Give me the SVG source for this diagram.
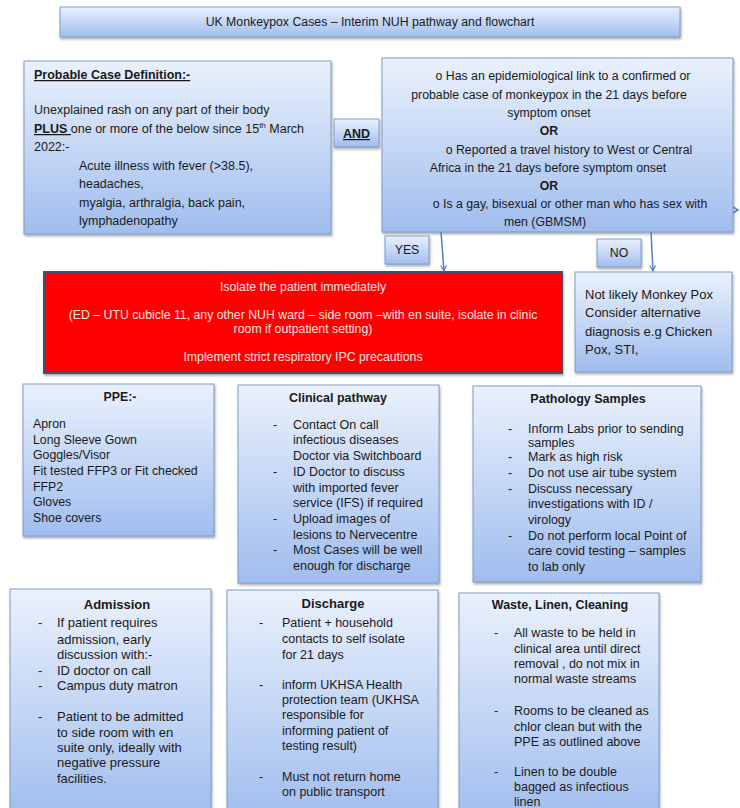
<svg xmlns="http://www.w3.org/2000/svg" width="740" height="808" viewBox="0 0 740 808">
<defs>
<linearGradient id="blueGrad" x1="0" y1="0" x2="0" y2="1">
<stop offset="0" stop-color="#eaf1fc"/>
<stop offset="1" stop-color="#a0bdee"/>
</linearGradient>
<filter id="shadow" x="-5%" y="-5%" width="115%" height="120%">
<feDropShadow dx="1" dy="2" stdDeviation="1.2" flood-color="#555" flood-opacity="0.45"/>
</filter>
<marker id="arrow" viewBox="0 0 10 10" refX="9" refY="5" markerWidth="7" markerHeight="7" orient="auto" markerUnits="userSpaceOnUse">
<path d="M1,1 L9,5 L1,9" fill="none" stroke="#4f81bd" stroke-width="1.6"/>
</marker>
</defs>
<style>
.box{fill:url(#blueGrad);stroke:#7f9cc9;stroke-width:1;filter:url(#shadow)}
.red{fill:#ff0000;stroke:#44506e;stroke-width:2;filter:url(#shadow)}
text{font-family:"Liberation Sans",Arial,sans-serif;fill:#1a1a1a}
.t12{font-size:12.3px}
.t125{font-size:12.5px}
.t13{font-size:13px}
.b{font-weight:bold}
.u{text-decoration:underline}
.m{text-anchor:middle}
.w{fill:#fde3e3}
.conn{stroke:#4f81bd;stroke-width:1.5;fill:none}
</style>

<g id="title">
<rect class="box" x="60" y="7" width="620" height="30"/>
<text class="m" x="370" y="26" font-size="12.3">UK Monkeypox Cases – Interim NUH  pathway and flowchart</text>
</g>

<g id="case-definition">
<rect class="box" x="24" y="61" width="307" height="173"/>
<text class="t125 b u" x="34" y="79">Probable Case Definition:-</text>
<text class="t125" x="34" y="114">Unexplained rash on any part of their body</text>
<text class="t125" x="34" y="133"><tspan class="b u">PLUS </tspan>one or more of the below since 15<tspan font-size="8" dy="-5">th</tspan><tspan dy="5"> March</tspan></text>
<text class="t125" x="34" y="151">2022:-</text>
<text class="t125" x="79" y="170">Acute illness with fever (&gt;38.5),</text>
<text class="t125" x="79" y="188">headaches,</text>
<text class="t125" x="79" y="207">myalgia, arthralgia, back pain,</text>
<text class="t125" x="79" y="225">lymphadenopathy</text>
</g>

<g id="and">
<rect class="box" x="334" y="119" width="45" height="28"/>
<text class="t125 b u m" x="356.5" y="138">AND</text>
</g>

<g id="criteria">
<rect class="box" x="382" y="58" width="351" height="174"/>
<text class="t12 m" x="563" y="80">o Has an epidemiological link to a confirmed or</text>
<text class="t12 m" x="549" y="99">probable case of monkeypox in the 21 days before</text>
<text class="t12 m" x="549" y="117">symptom onset</text>
<text class="t12 m b" x="549" y="135">OR</text>
<text class="t12 m" x="569" y="154">o Reported a travel history to West or Central</text>
<text class="t12 m" x="548" y="172">Africa in the 21 days before symptom onset</text>
<text class="t12 m b" x="549" y="190">OR</text>
<text class="t12 m" x="570" y="208">o Is a gay, bisexual or other man who has sex with</text>
<text class="t12 m" x="545" y="226">men (GBMSM)</text>
</g>

<g id="yes">
<rect class="box" x="385" y="236" width="44" height="28"/>
<text class="t12 m" x="407" y="254">YES</text>
</g>

<g id="no">
<rect class="box" x="597" y="239" width="44" height="28"/>
<text class="t12 m" x="619" y="257">NO</text>
</g>

<g id="isolate">
<rect class="red" x="44" y="272" width="518" height="101"/>
<text class="t12 m w" x="303" y="291">Isolate the patient immediately</text>
<text class="t12 m w" x="303" y="319">(ED – UTU cubicle 11, any other NUH ward – side room –with en suite, isolate in clinic</text>
<text class="t12 m w" x="303" y="333">room if outpatient setting)</text>
<text class="t12 m w" x="303" y="361">Implement strict respiratory IPC precautions</text>
</g>

<g id="not-likely">
<rect class="box" x="575" y="272" width="157" height="100"/>
<text class="t13" x="585" y="299">Not likely Monkey Pox</text>
<text class="t13" x="585" y="317">Consider alternative</text>
<text class="t13" x="585" y="336">diagnosis e.g Chicken</text>
<text class="t13" x="585" y="354">Pox, STI,</text>
</g>

<g id="ppe">
<rect class="box" x="23" y="384" width="191" height="152"/>
<text class="t12 b m" x="120" y="401">PPE:-</text>
<text class="t12" x="33" y="428">Apron</text>
<text class="t12" x="33" y="444">Long Sleeve Gown</text>
<text class="t12" x="33" y="459">Goggles/Visor</text>
<text class="t12" x="33" y="475">Fit tested FFP3 or Fit checked</text>
<text class="t12" x="33" y="491">FFP2</text>
<text class="t12" x="33" y="506">Gloves</text>
<text class="t12" x="33" y="522">Shoe covers</text>
</g>

<g id="clinical-pathway">
<rect class="box" x="238" y="385" width="201" height="198"/>
<text class="t125 b m" x="338" y="402">Clinical pathway</text>
<text class="t125" x="273" y="429">-</text>
<text class="t125" x="293" y="429">Contact On call</text>
<text class="t125" x="293" y="444">infectious diseases</text>
<text class="t125" x="293" y="460">Doctor via Switchboard</text>
<text class="t125" x="273" y="476">-</text>
<text class="t125" x="293" y="476">ID Doctor to discuss</text>
<text class="t125" x="293" y="492">with imported fever</text>
<text class="t125" x="293" y="507">service (IFS) if required</text>
<text class="t125" x="273" y="523">-</text>
<text class="t125" x="293" y="523">Upload images of</text>
<text class="t125" x="293" y="539">lesions to Nervecentre</text>
<text class="t125" x="273" y="554">-</text>
<text class="t125" x="293" y="554">Most Cases will be well</text>
<text class="t125" x="293" y="570">enough for discharge</text>
</g>

<g id="pathology-samples">
<rect class="box" x="473" y="386" width="228" height="196"/>
<text class="t125 b m" x="588" y="403">Pathology Samples</text>
<text class="t125" x="508" y="433">-</text>
<text class="t125" x="528" y="433">Inform Labs prior to sending</text>
<text class="t125" x="528" y="447">samples</text>
<text class="t125" x="508" y="461">-</text>
<text class="t125" x="528" y="461">Mark as high risk</text>
<text class="t125" x="508" y="477">-</text>
<text class="t125" x="528" y="477">Do not use air tube system</text>
<text class="t125" x="508" y="493">-</text>
<text class="t125" x="528" y="493">Discuss necessary</text>
<text class="t125" x="528" y="508">investigations with ID /</text>
<text class="t125" x="528" y="524">virology</text>
<text class="t125" x="508" y="540">-</text>
<text class="t125" x="528" y="540">Do not perform local Point of</text>
<text class="t125" x="528" y="555">care covid testing – samples</text>
<text class="t125" x="528" y="571">to lab only</text>
</g>

<g id="admission">
<rect class="box" x="10" y="589" width="201" height="230"/>
<text class="t13 b m" x="117" y="609">Admission</text>
<text class="t13" x="38" y="627">-</text>
<text class="t13" x="57" y="627">If patient requires</text>
<text class="t13" x="57" y="644">admission, early</text>
<text class="t13" x="57" y="659">discussion with:-</text>
<text class="t13" x="38" y="675">-</text>
<text class="t13" x="57" y="675">ID doctor on call</text>
<text class="t13" x="38" y="690">-</text>
<text class="t13" x="57" y="690">Campus duty matron</text>
<text class="t13" x="38" y="721">-</text>
<text class="t13" x="57" y="721">Patient to be admitted</text>
<text class="t13" x="57" y="737">to side room with en</text>
<text class="t13" x="57" y="752">suite only, ideally with</text>
<text class="t13" x="57" y="767">negative pressure</text>
<text class="t13" x="57" y="783">facilities.</text>
</g>

<g id="discharge">
<rect class="box" x="227" y="590" width="211" height="230"/>
<text class="t13 b m" x="333" y="608">Discharge</text>
<text class="t125" x="259" y="627">-</text>
<text class="t125" x="282" y="627">Patient + household</text>
<text class="t125" x="282" y="643">contacts to self isolate</text>
<text class="t125" x="282" y="659">for 21 days</text>
<text class="t125" x="259" y="689">-</text>
<text class="t125" x="282" y="689">inform UKHSA Health</text>
<text class="t125" x="282" y="704">protection team (UKHSA</text>
<text class="t125" x="282" y="719">responsible  for</text>
<text class="t125" x="282" y="735">informing patient of</text>
<text class="t125" x="282" y="750">testing result)</text>
<text class="t125" x="259" y="781">-</text>
<text class="t125" x="282" y="781">Must not return home</text>
<text class="t125" x="282" y="796">on public transport</text>
</g>

<g id="waste-linen-cleaning">
<rect class="box" x="459" y="593" width="200" height="230"/>
<text class="t125 b m" x="560" y="609">Waste, Linen, Cleaning</text>
<text class="t125" x="494" y="637">-</text>
<text class="t125" x="514" y="637">All waste to be held in</text>
<text class="t125" x="514" y="653">clinical area until direct</text>
<text class="t125" x="514" y="668">removal , do not mix in</text>
<text class="t125" x="514" y="683">normal waste streams</text>
<text class="t125" x="494" y="715">-</text>
<text class="t125" x="514" y="715">Rooms to be cleaned as</text>
<text class="t125" x="514" y="731">chlor clean but with the</text>
<text class="t125" x="514" y="746">PPE as outlined above</text>
<text class="t125" x="494" y="776">-</text>
<text class="t125" x="514" y="776">Linen to be double</text>
<text class="t125" x="514" y="791">bagged as infectious</text>
<text class="t125" x="514" y="806">linen</text>
</g>

<g id="connectors">
<path class="conn" d="M441,232 L444,271" marker-end="url(#arrow)"/>
<path class="conn" d="M651,232 L653,271" marker-end="url(#arrow)"/>
<path class="conn" d="M733,207 L738,210 L733,213"/>
</g>
</svg>
